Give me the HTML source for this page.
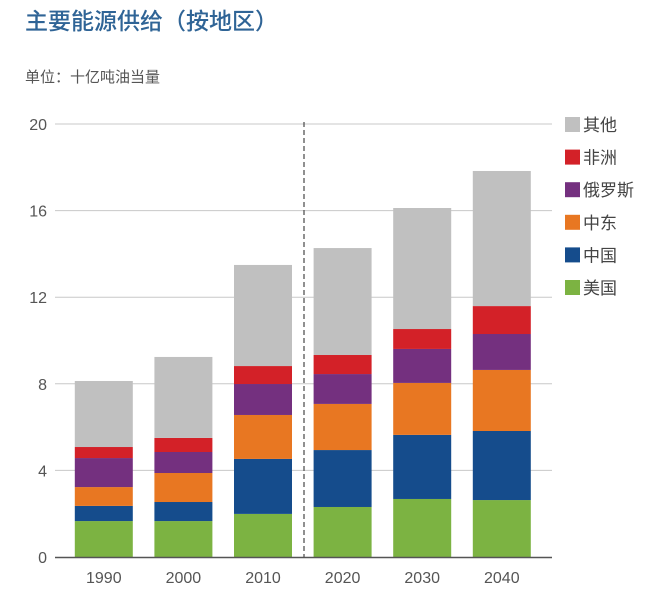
<!DOCTYPE html>
<html><head><meta charset="utf-8"><style>
body{margin:0;background:#fff;width:649px;height:600px;overflow:hidden;font-family:"Liberation Sans","Noto Sans CJK SC",sans-serif}
</style></head><body>
<svg width="649" height="600" font-family="Liberation Sans, Noto Sans CJK SC, sans-serif">
<text x="25" y="29" font-size="23" fill="#2f6496" font-weight="500">主要能源供给（按地区）</text>
<text x="25" y="82" font-size="15" fill="#555">单位：十亿吨油当量</text>
<g id="grid"></g><g id="bars"></g><g id="axes"></g><g id="legend"></g>
</svg>
<script>
const categories=["1990","2000","2010","2020","2030","2040"];
const seriesNames=["美国","中国","中东","俄罗斯","非洲","其他"];
const colors=["#7cb342","#154c8c","#e87722","#74307f","#d32128","#c0c0c0"];
const usa=[1.66,1.66,1.99,2.31,2.68,2.63];
const china=[0.70,0.88,2.54,2.63,2.96,3.19];
const middleEast=[0.87,1.34,2.03,2.13,2.40,2.82];
const russia=[1.34,0.97,1.43,1.38,1.57,1.66];
const africa=[0.51,0.65,0.83,0.88,0.92,1.29];
const other=[3.05,3.74,4.67,4.94,5.59,6.24];
const yTicks=[0,4,8,12,16,20];
const series=[usa,china,middleEast,russia,africa,other];
const NS="http://www.w3.org/2000/svg";
const y=v=>557-v*21.65;
const x=i=>64+(i+0.5)*79.6;
function mk(t,a,p){const e=document.createElementNS(NS,t);for(const k in a)e.setAttribute(k,a[k]);p.appendChild(e);return e;}
const grid=document.getElementById('grid'),bars=document.getElementById('bars'),axes=document.getElementById('axes'),leg=document.getElementById('legend');
yTicks.forEach(t=>{
 if(t>0){const l=mk('line',{x1:55,x2:552,y1:y(t),y2:y(t),stroke:'#c8c8c8','stroke-width':1},grid);
 
 }
 const tx=mk('text',{x:47,y:y(t)+6,'font-size':16,fill:'#555','text-anchor':'end'},axes);tx.textContent=t;
 
 
});
categories.forEach((c,i)=>{
 let acc=0;
 series.forEach((s,j)=>{
  const r=mk('rect',{x:x(i)-29,width:58,y:y(acc+s[i]),height:y(acc)-y(acc+s[i]),fill:colors[j]},bars);
  
  
  acc+=s[i];
 });
 const tx=mk('text',{x:x(i),y:583,'font-size':16,fill:'#555','text-anchor':'middle'},axes);tx.textContent=c;
 
 
});
const dl=mk('line',{x1:304,x2:304,y1:122,y2:557,stroke:'#555','stroke-width':1.3,'stroke-dasharray':'5,3'},axes);


const ax=mk('line',{x1:55,x2:552,y1:557.5,y2:557.5,stroke:'#555','stroke-width':1.5},axes);


for(let j=5;j>=0;j--){
 const yy=125+(5-j)*32.6;
 const r=mk('rect',{x:565,y:yy-8,width:15,height:15,fill:colors[j]},leg);
 
 
 const t=mk('text',{x:583,y:yy+6,'font-size':17,fill:'#444'},leg);t.textContent=seriesNames[j];
 
 
}
</script>
</body></html>
